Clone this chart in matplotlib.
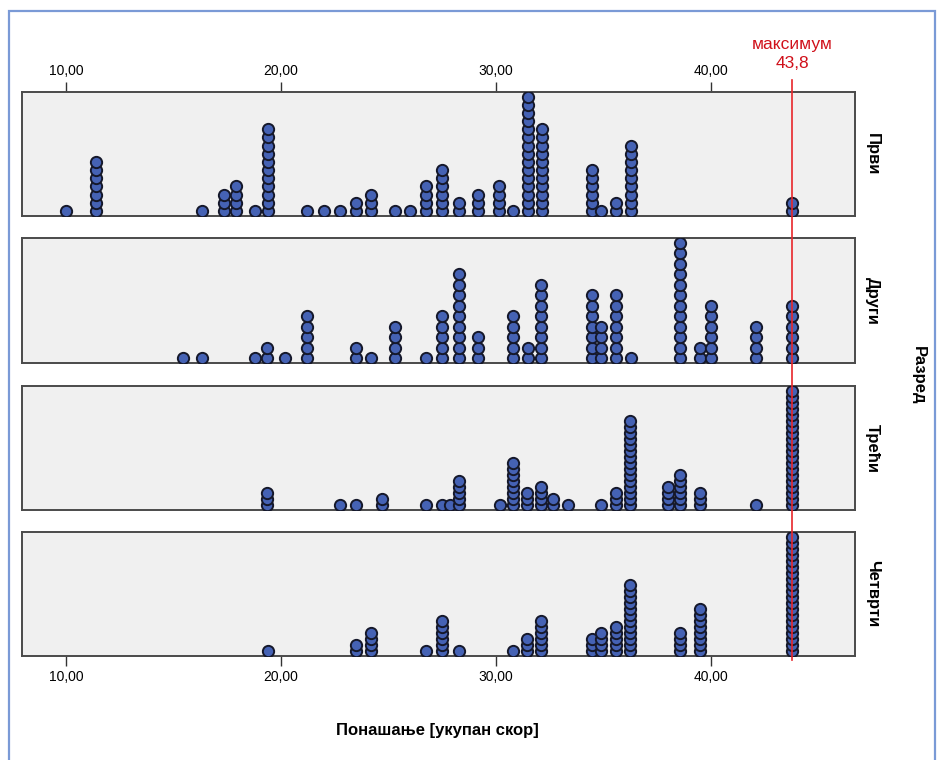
import matplotlib
matplotlib.use("Agg")
import matplotlib.pyplot as plt
from matplotlib.lines import Line2D
from matplotlib.patches import Rectangle
from matplotlib.transforms import blended_transform_factory

W, H = 942, 760

GRADES = ["Први", "Други", "Трећи", "Четврти"]

# score value of each dot stack and how many pupils sit in it, per grade
PRVI_X = [10.0, 11.4, 16.3, 17.35, 17.9, 18.8, 19.4, 21.2, 22.0, 22.75, 23.5, 24.2, 25.3, 26.0,
          26.75, 27.5, 28.3, 29.15, 30.15, 30.8, 31.5, 32.15, 34.5, 34.9, 35.6, 36.3, 43.8]
PRVI_N = [1, 7, 1, 3, 4, 1, 11, 1, 1, 1, 2, 3, 1, 1,
          4, 6, 2, 3, 4, 1, 15, 11, 6, 1, 2, 9, 2]

DRUGI_X = [15.45, 16.3, 18.8, 19.35, 20.2, 21.2, 23.5, 24.2, 25.3, 26.75, 27.5, 28.3, 29.15,
           30.8, 31.5, 32.1, 34.5, 34.9, 35.6, 36.3, 38.6, 39.5, 40.0, 42.1, 43.8]
DRUGI_N = [1, 1, 1, 2, 1, 5, 2, 1, 4, 1, 5, 9, 3,
           5, 2, 8, 7, 4, 7, 1, 12, 2, 6, 4, 6]

TRECI_X = [19.35, 22.75, 23.5, 24.7, 26.75, 27.5, 27.85, 28.3, 30.2, 30.8, 31.45, 32.1, 32.65,
           33.35, 34.9, 35.6, 36.25, 38.0, 38.6, 39.5, 42.1, 43.8]
TRECI_N = [3, 1, 1, 2, 1, 1, 1, 5, 1, 8, 3, 4, 2,
           1, 1, 3, 15, 4, 6, 3, 1, 20]

CETVRTI_X = [19.4, 23.5, 24.2, 26.75, 27.5, 28.3, 30.8, 31.45, 32.1, 34.5, 34.9, 35.6, 36.25,
             38.6, 39.5, 43.8]
CETVRTI_N = [1, 2, 4, 1, 6, 1, 1, 3, 6, 3, 4, 5, 12,
             4, 8, 20]

MAX_SCORE = 43.8
XTICKS = [10, 20, 30, 40]
XTICK_LABELS = ["10,00", "20,00", "30,00", "40,00"]

FONT = ["Liberation Sans Narrow", "Liberation Sans", "DejaVu Sans"]
BOLD = ["Liberation Sans", "DejaVu Sans"]
DOT_FACE = "#4562b4"
DOT_EDGE = "#15182a"


def px_box(left, top, right, bottom):
    return [left / W, 1 - bottom / H, (right - left) / W, (bottom - top) / H]


fig = plt.figure(figsize=(W / 100, H / 100), dpi=100)
fig.patch.set_facecolor("white")

# light blue frame around the whole picture
fig.add_artist(Rectangle((9 / W, -0.05), (935 - 9) / W, 1.05 - 11 / H, transform=fig.transFigure,
                         fill=False, edgecolor="#7a9ad6", linewidth=1.6))

series = [(PRVI_X, PRVI_N), (DRUGI_X, DRUGI_N), (TRECI_X, TRECI_N), (CETVRTI_X, CETVRTI_N)]
tops = [92, 238, 386, 532]
bottoms = [216, 363, 510, 656]
axes = []
for i, (name, (xs, ns)) in enumerate(zip(GRADES, series)):
    ax = fig.add_axes(px_box(22, tops[i], 855, bottoms[i]))
    h = bottoms[i] - tops[i]
    ax.set_facecolor("#f0f0f0")
    ax.set_xlim(7.93, 46.73)
    ax.set_ylim(0, h)
    base = 5.0
    step = (h - 9.5) / (max(ns) - 1)
    px, py = [], []
    for x, n in zip(xs, ns):
        for k in range(n):
            px.append(x)
            py.append(base + k * step)
    ax.scatter(px, py, s=66, facecolor=DOT_FACE, edgecolor=DOT_EDGE, linewidth=1.4,
               zorder=3, clip_on=True)
    for sp in ax.spines.values():
        sp.set_color("#4a4a4a")
        sp.set_linewidth(1.4)
    ax.set_yticks([])
    ax.set_xticks(XTICKS)
    ax.tick_params(axis="x", direction="out", length=7, width=1, color="#333333", pad=3)
    if i == 0:
        ax.tick_params(axis="x", top=True, labeltop=True, bottom=False, labelbottom=False)
        ax.set_xticklabels(XTICK_LABELS, family=FONT, fontsize=10)
    elif i == 3:
        ax.set_xticklabels(XTICK_LABELS, family=FONT, fontsize=10)
    else:
        ax.tick_params(axis="x", bottom=False, labelbottom=False)
    ax.text(1.012, 0.5, name, transform=ax.transAxes, rotation=-90, ha="left", va="center",
            family=BOLD, fontsize=12, fontweight="bold")
    axes.append(ax)

# red reference line for the maximum score, drawn across all panels
tr = blended_transform_factory(axes[0].transData, fig.transFigure)
fig.add_artist(Line2D([MAX_SCORE, MAX_SCORE], [1 - 80 / H, 1 - 660 / H], transform=tr,
                      color="#e8262a", linewidth=1.2, zorder=10))
fig.text(MAX_SCORE, 1 - 44 / H, "максимум", transform=tr, ha="center", va="center",
         color="#d0101a", family=FONT, fontsize=12.5)
fig.text(MAX_SCORE, 1 - 64 / H, "43,8", transform=tr, ha="center", va="center",
         color="#d0101a", family=FONT, fontsize=12.5)

fig.text(918 / W, 1 - 375 / H, "Разред", rotation=-90, ha="center", va="center",
         family=BOLD, fontsize=12, fontweight="bold")
fig.text(437 / W, 1 - 731 / H, "Понашање [укупан скор]", ha="center", va="center",
         family=BOLD, fontsize=12, fontweight="bold")

fig.savefig("out.png", dpi=100)
